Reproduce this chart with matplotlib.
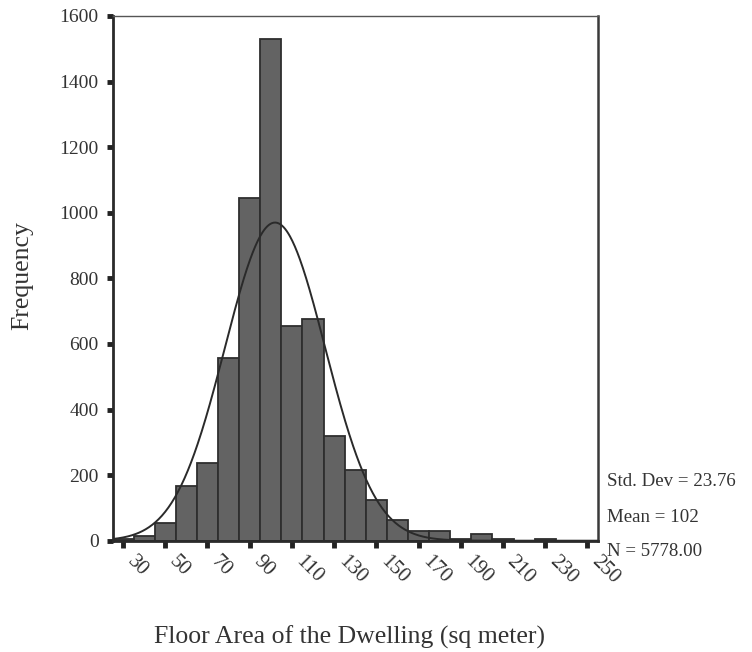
import numpy as np
import matplotlib
matplotlib.use("Agg")
import matplotlib.pyplot as plt

# Data (bin centres, width 10)
bin_centers = [30, 40, 50, 60, 70, 80, 90, 100, 110, 120, 130, 140, 150,
               160, 170, 180, 190, 200, 210, 220, 230, 240, 250]
frequencies = [5, 15, 53, 168, 238, 556, 1044, 1529, 655, 675, 320, 217, 124,
               63, 30, 30, 5, 20, 4, 0, 4, 0, 0]
bin_width = 10
mean_val = 102
std_val = 23.76
n_val = 5778
x_ticks = [30, 50, 70, 90, 110, 130, 150, 170, 190, 210, 230, 250]
y_ticks = [0, 200, 400, 600, 800, 1000, 1200, 1400, 1600]
stats_lines = ["Std. Dev = 23.76", "Mean = 102", "N = 5778.00"]

plt.rcParams['font.family'] = ['Liberation Serif', 'DejaVu Serif']
txt = '#333333'

fig = plt.figure(figsize=(7.52, 6.52), dpi=100)
ax = fig.add_axes([112.5 / 752, 1 - 540.7 / 652, (598 - 112.5) / 752, (540.7 - 16) / 652])

ax.bar(bin_centers, frequencies, width=bin_width, color='#636363',
       edgecolor='#2e2e2e', linewidth=1.3, zorder=2)

xs = np.linspace(25, 255, 600)
pdf = n_val * bin_width / (std_val * np.sqrt(2 * np.pi)) * np.exp(-0.5 * ((xs - mean_val) / std_val) ** 2)
ax.plot(xs, pdf, color='#2a2a2a', linewidth=1.4, zorder=3)

ax.set_xlim(25, 255)
ax.set_ylim(0, 1600)
ax.set_xticks(x_ticks)
ax.set_yticks(y_ticks)
ax.set_xticklabels([str(t) for t in x_ticks], rotation=-45, ha='left', va='top',
                   fontsize=15, color=txt)
ax.set_yticklabels([str(t) for t in y_ticks], fontsize=14, color=txt)
ax.tick_params(axis='x', direction='out', length=5, width=3.5, color='#222222', pad=3)
ax.tick_params(axis='y', direction='out', length=4, width=3.5, color='#222222', pad=6)

for side in ['left', 'bottom']:
    ax.spines[side].set_linewidth(2.0)
    ax.spines[side].set_color('#2a2a2a')
ax.spines['right'].set_linewidth(1.8)
ax.spines['right'].set_color('#3a3a3a')
ax.spines['top'].set_linewidth(1.0)
ax.spines['top'].set_color('#555555')

fig.text(22 / 752, 1 - 276 / 652, 'Frequency', rotation=90, ha='center', va='center',
         fontsize=18.5, color=txt)
fig.text(350 / 752, 1 - 637 / 652, 'Floor Area of the Dwelling (sq meter)', ha='center',
         va='center', fontsize=18.5, color=txt)

for i, (line, yy) in enumerate(zip(stats_lines, [482, 517, 551])):
    fig.text(607 / 752, 1 - yy / 652, line, ha='left', va='center', fontsize=13.6, color=txt)

fig.savefig('out.png', dpi=100)
